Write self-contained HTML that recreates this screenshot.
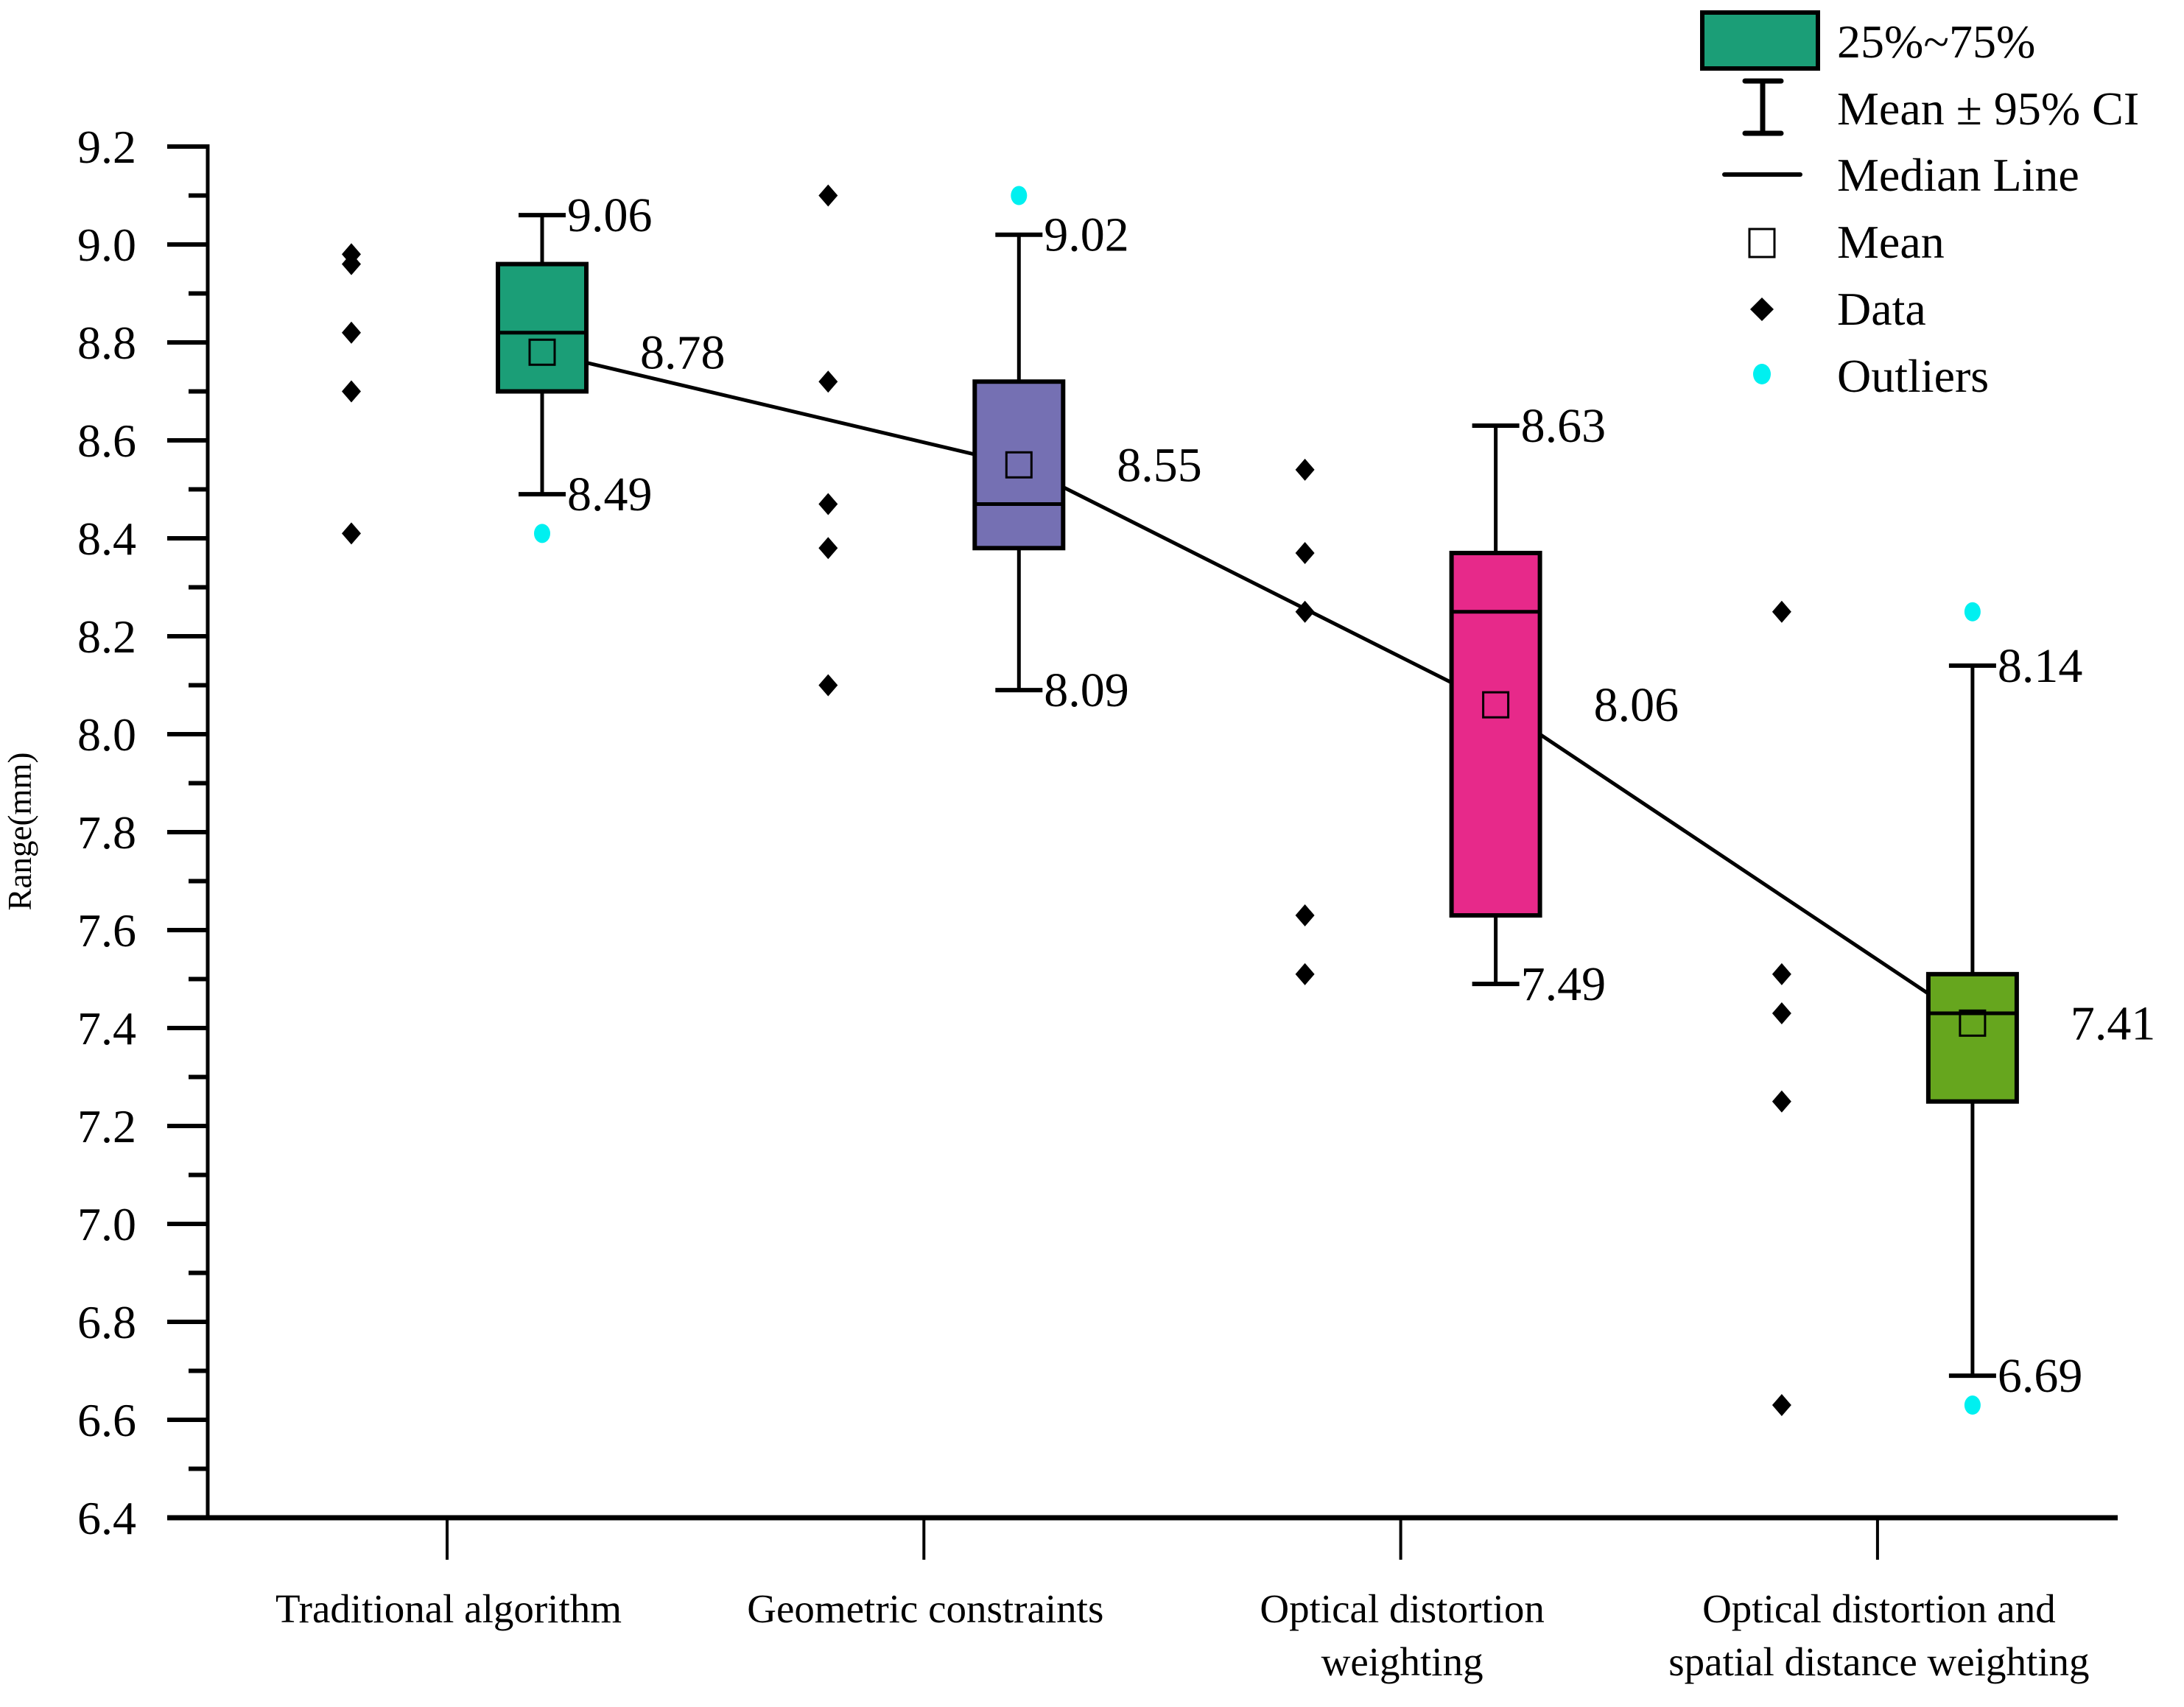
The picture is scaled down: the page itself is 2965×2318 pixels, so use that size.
<!DOCTYPE html>
<html><head><meta charset="utf-8"><style>
html,body{margin:0;padding:0;background:#fff;}
svg, svg text{font-family:"Liberation Serif","Times New Roman","DejaVu Serif",serif;}
</style></head><body>
<svg id="chart" width="2965" height="2313" viewBox="0 0 2965 2313" xmlns="http://www.w3.org/2000/svg" font-family="Liberation Serif, serif">
<text transform="translate(42,1129) rotate(-90)" text-anchor="middle" font-size="45">Range(mm)</text>
<g id="legend">
 <rect x="2311" y="17" width="157" height="76" fill="#1b9e77" stroke="#000" stroke-width="6"/>
 <text x="2494" y="78" font-size="64">25%~75%</text>
 <g stroke="#000" stroke-width="7" stroke-linecap="round"><line x1="2369" y1="110" x2="2418" y2="110"/><line x1="2369" y1="181" x2="2418" y2="181"/><line x1="2393" y1="110" x2="2393" y2="181"/></g>
 <text x="2494" y="169" font-size="64">Mean ± 95% CI</text>
 <line x1="2341" y1="237" x2="2444" y2="237" stroke="#000" stroke-width="6" stroke-linecap="round"/>
 <text x="2494" y="259" font-size="64">Median Line</text>
 <rect x="2375" y="311" width="34" height="38" fill="#fff" stroke="#000" stroke-width="3"/>
 <text x="2494" y="350" font-size="64">Mean</text>
 <polygon points="2392,404 2408,420 2392,436 2376,420" fill="#000"/>
 <text x="2494" y="441" font-size="64">Data</text>
 <ellipse cx="2392" cy="508" rx="12" ry="14" fill="#00f0f0"/>
 <text x="2494" y="532" font-size="64">Outliers</text>
</g>
<g id="plot"></g>
</svg>
<script>
const categories = [["Traditional algorithm"],["Geometric constraints"],["Optical distortion","weighting"],["Optical distortion and","spatial distance weighting"]];
const dataPoints = [[8.98,8.96,8.82,8.70,8.41],[9.10,8.72,8.47,8.38,8.10],[8.54,8.37,8.25,7.63,7.51],[8.25,7.51,7.43,7.25,6.63]];
const q1 = [8.70,8.38,7.63,7.25];
const q3 = [8.96,8.72,8.37,7.51];
const medians = [8.82,8.47,8.25,7.43];
const means = [8.78,8.55,8.06,7.41];
const whiskerLow = [8.49,8.09,7.49,6.69];
const whiskerHigh = [9.06,9.02,8.63,8.14];
const outliers = [[8.41],[9.10],[],[8.25,6.63]];
const boxColors = ["#1b9e77","#7570b3","#e7298a","#66a61e"];
const yTicks = [6.4,6.6,6.8,7.0,7.2,7.4,7.6,7.8,8.0,8.2,8.4,8.6,8.8,9.0,9.2];

const NS="http://www.w3.org/2000/svg";
const g=document.getElementById('plot');
function y(v){return 2061-(v-6.4)/2.8*1862;}
function xc(i){return 607+i*647.3;}
function mk(tag,attrs,parent){const e=document.createElementNS(NS,tag);for(const k in attrs)e.setAttribute(k,attrs[k]);(parent||g).appendChild(e);return e;}

let e=mk('line',{x1:282,y1:y(9.2)-3,x2:282,y2:2061,stroke:'#000','stroke-width':5});


e=mk('line',{x1:227,y1:2061,x2:2875,y2:2061,stroke:'#000','stroke-width':7});


yTicks.forEach((t,i)=>{
  const yy=y(t);
  let l=mk('line',{x1:227,y1:yy,x2:282,y2:yy,stroke:'#000','stroke-width':6});
  
  
  let tx=mk('text',{x:185,y:yy+22,'text-anchor':'end','font-size':64});
  tx.textContent=t.toFixed(1);
  
  
  if(i<yTicks.length-1){
    const ym=y(t+0.1);
    let m=mk('line',{x1:256,y1:ym,x2:282,y2:ym,stroke:'#000','stroke-width':6});
    
    
  }
});
categories.forEach((c,i)=>{
  let l=mk('line',{x1:xc(i),y1:2061,x2:xc(i),y2:2118,stroke:'#000','stroke-width':4});
  
  
  c.forEach((line,j)=>{
    let t=mk('text',{x:xc(i)+2,y:2203+j*72,'text-anchor':'middle','font-size':55});
    t.textContent=line;
    
    
  });
});
let pts=means.map((m,i)=>(xc(i)+129)+','+y(m)).join(' ');
e=mk('polyline',{points:pts,fill:'none',stroke:'#000','stroke-width':5});



categories.forEach((c,i)=>{
  const bx=xc(i)+129, dx=xc(i)-130;
  dataPoints[i].forEach(v=>{
    const yy=y(v);
    let d=mk('polygon',{points:`${dx},${yy-15} ${dx+13},${yy} ${dx},${yy+15} ${dx-13},${yy}`,fill:'#000'});
    
    
  });
  let w=mk('line',{x1:bx,y1:y(whiskerHigh[i]),x2:bx,y2:y(whiskerLow[i]),stroke:'#000','stroke-width':5});
  
  
  [whiskerHigh[i],whiskerLow[i]].forEach(v=>{
    let cp=mk('line',{x1:bx-32,y1:y(v),x2:bx+32,y2:y(v),stroke:'#000','stroke-width':6});
    
    
    let t=mk('text',{x:bx+34,y:y(v)+22,'font-size':66});
    t.textContent=v.toFixed(2);
    
    
  });
  let r=mk('rect',{x:bx-60,y:y(q3[i]),width:120,height:y(q1[i])-y(q3[i]),fill:boxColors[i],stroke:'#000','stroke-width':6});
  
  
  let md=mk('line',{x1:bx-60,y1:y(medians[i]),x2:bx+60,y2:y(medians[i]),stroke:'#000','stroke-width':5});
  
  
  let ms=mk('rect',{x:bx-17,y:y(means[i])-17,width:34,height:34,fill:'none',stroke:'#000','stroke-width':3});
  
  
  let mt=mk('text',{x:bx+133,y:y(means[i])+22,'font-size':66});
  mt.textContent=means[i].toFixed(2);
  
  
  outliers[i].forEach(v=>{
    let o=mk('ellipse',{cx:bx,cy:y(v),rx:11,ry:13,fill:'#00f0f0'});
    
    
  });
});
</script>
</body></html>
